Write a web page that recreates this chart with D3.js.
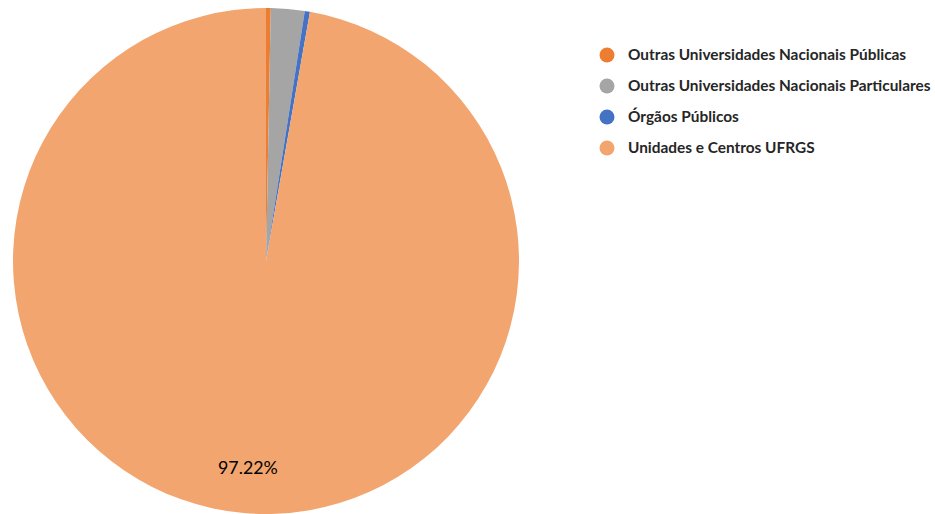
<!DOCTYPE html>
<html>
<head>
<meta charset="utf-8">
<script src="https://cdn.jsdelivr.net/npm/d3@7"></script>
<style>
  body { margin: 0; background: #fff; }
</style>
</head>
<body>
<div id="chart"></div>
<script>
// categories and shares (%)
const categories = [
  "Outras Universidades Nacionais Públicas",
  "Outras Universidades Nacionais Particulares",
  "Órgãos Públicos",
  "Unidades e Centros UFRGS"
];
const values = [0.30, 2.15, 0.33, 97.22];
const colors = ["#ED7D31", "#A5A5A5", "#4472C4", "#F2A56F"];
const shownLabels = ["", "", "", "97.22%"];

const width = 935, height = 514;
const cx = 266, cy = 261, radius = 253;

const data = categories.map((c, i) => ({ name: c, value: values[i], color: colors[i], label: shownLabels[i] }));

const svg = d3.select("#chart").append("svg")
    .attr("width", width)
    .attr("height", height)
    .style("font-family", "Lato, 'Open Sans', 'Liberation Sans', sans-serif");

const pie = d3.pie().value(d => d.value).sort(null);
const arcs = pie(data);
const arc = d3.arc().innerRadius(0).outerRadius(radius);

const g = svg.append("g").attr("transform", `translate(${cx},${cy})`);

g.selectAll("path")
  .data(arcs)
  .join("path")
    .attr("d", arc)
    .attr("fill", d => d.data.color);

// data label for the big slice
const labelR = radius * 0.82;
g.selectAll("text")
  .data(arcs.filter(d => d.data.label))
  .join("text")
    .attr("transform", d => {
      const a = (d.startAngle + d.endAngle) / 2;
      return `translate(${Math.sin(a) * labelR},${-Math.cos(a) * labelR})`;
    })
    .attr("text-anchor", "middle")
    .attr("dy", "0.35em")
    .style("font-size", "17.8px")
    .attr("fill", "#000")
    .text(d => d.data.label);

// legend
const legend = svg.append("g").attr("transform", "translate(607,55)");
const item = legend.selectAll("g")
  .data(data)
  .join("g")
    .attr("transform", (d, i) => `translate(0,${i * 31})`);

item.append("circle")
    .attr("r", 7.5)
    .attr("fill", d => d.color);

item.append("text")
    .attr("x", 21)
    .attr("dy", "0.35em")
    .style("font-size", "15.4px")
    .style("font-weight", "700")
    .attr("fill", "#262626")
    .text(d => d.name);
</script>
</body>
</html>
